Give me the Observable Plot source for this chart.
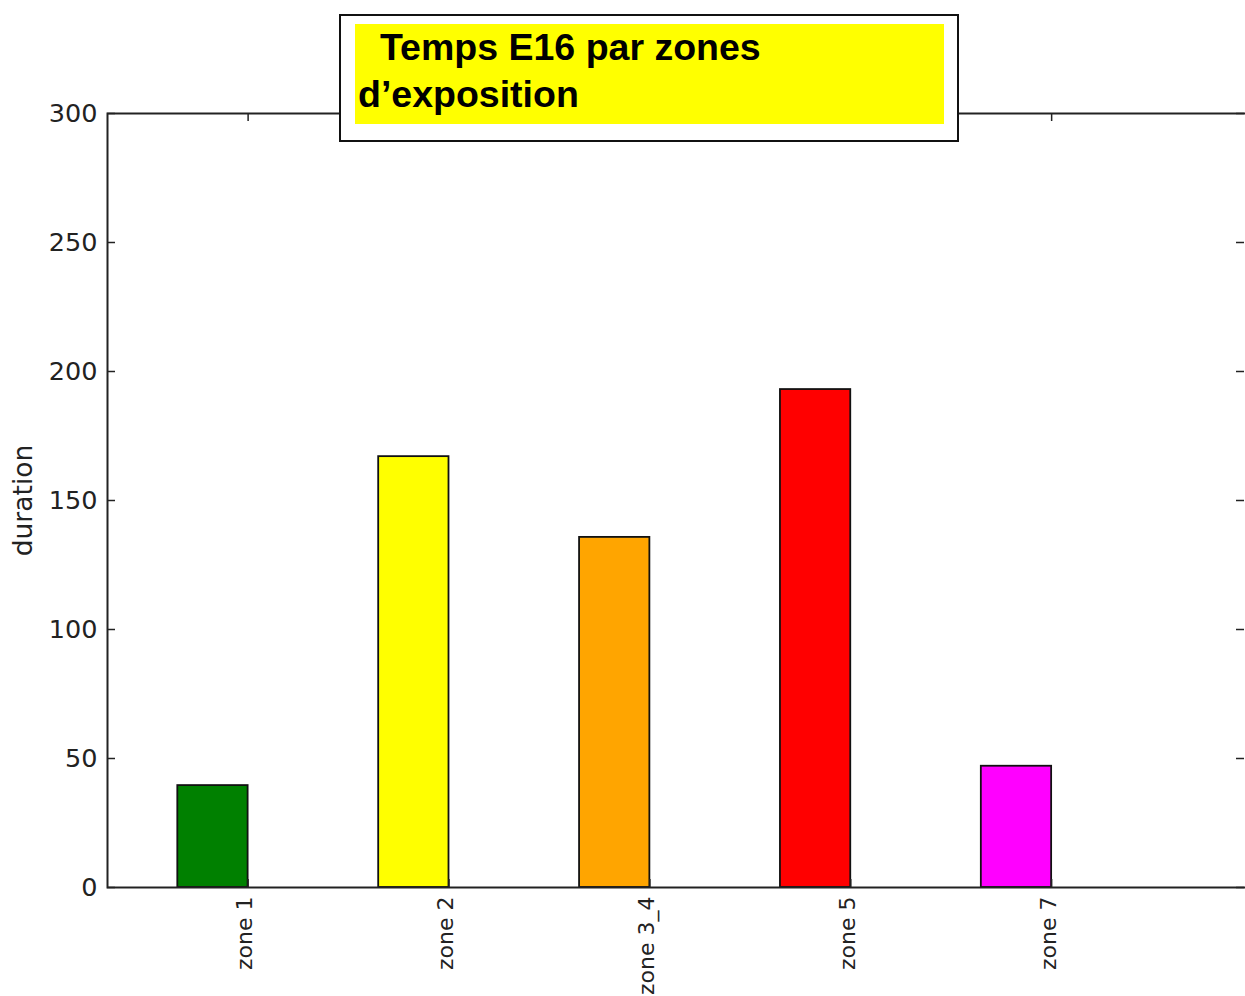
<!DOCTYPE html>
<html>
<head>
<meta charset="utf-8">
<script src="https://cdn.jsdelivr.net/npm/d3@7"></script>
<script src="https://cdn.jsdelivr.net/npm/@observablehq/plot@0.6"></script>
<style>
  html, body { margin: 0; padding: 0; overflow: hidden; background: white; }
  #wrap { position: relative; width: 1245px; height: 996px; overflow: hidden; }
  #chart svg { max-width: none !important; }
  #titlebox {
    position: absolute; left: 339px; top: 14px; width: 616px; height: 124px;
    border: 2px solid #111; background: white; z-index: 2;
  }
  #titleinner {
    position: absolute; left: 14px; top: 8px; width: 589px; height: 100px;
    background: #ffff00;
    font-family: "Liberation Sans", Arial, sans-serif; font-weight: bold;
    font-size: 37.5px; line-height: 47px; color: #000; padding-left: 3px; box-sizing: border-box;
    white-space: nowrap;
  }
  #titleinner .l1 { padding-left: 22px; }
</style>
</head>
<body>
<div id="wrap">
  <div id="titlebox"><div id="titleinner"><div class="l1">Temps E16 par zones</div><div>d’exposition</div></div></div>
  <div id="chart"></div>
</div>
<script>
const zones = ["zone 1", "zone 2", "zone 3_4", "zone 5", "zone 7"];
const durations = [39.5, 167, 135.7, 193, 47];
const barColors = ["#008000", "#ffff00", "#ffa500", "#ff0000", "#ff00ff"];
const yTicks = [0, 50, 100, 150, 200, 250, 300];
const xTicks = [0, 1, 2, 3, 4];
const yLabel = "duration";

const data = zones.map((z, i) => ({i, zone: z, value: durations[i], color: barColors[i]}));

const W = 1249, H = 996, ML = 107, MR = 1, MT = 113, MB = 109;
const innerW = W - ML - MR, innerH = H - MT - MB;
const tickLen = 8;

const chart = Plot.plot({
  width: W, height: H,
  marginLeft: ML, marginRight: MR, marginTop: MT, marginBottom: MB,
  x: {type: "linear", domain: [-0.7, 4.98]},
  y: {domain: [0, 300]},
  color: {type: "identity"},
  style: {fontFamily: "DejaVu Sans", fontSize: "25px", color: "#222", background: "white"},
  marks: [
    Plot.rectY(data, {x1: d => d.i - 0.35, x2: d => d.i, y1: 0, y2: "value", fill: "color", stroke: "#111", strokeWidth: 1.8}),
    Plot.tickY(yTicks, {y: d => d, insetRight: innerW - tickLen, stroke: "#222", strokeWidth: 1.5}),
    Plot.tickY(yTicks, {y: d => d, insetLeft: innerW - tickLen - 4, insetRight: 4, stroke: "#222", strokeWidth: 1.5}),
    Plot.tickX(xTicks, {x: d => d, insetBottom: innerH - tickLen, stroke: "#222", strokeWidth: 1.5}),
    Plot.tickX(xTicks, {x: d => d, insetTop: innerH - tickLen, stroke: "#222", strokeWidth: 1.5}),
    Plot.frame({stroke: "#222", strokeWidth: 2}),
    Plot.axisY({ticks: yTicks, tickSize: 0, tickPadding: 10, fontSize: 25.5, label: null}),
    Plot.axisX({ticks: xTicks, tickFormat: i => zones[i], tickRotate: -90, tickSize: 0, tickPadding: 9, fontSize: 22, label: null, dx: -3}),
    Plot.text([yLabel], {text: d => d, frameAnchor: "left", textAnchor: "middle", dx: -84, rotate: -90, fontSize: 26.5, fill: "#222"})
  ]
});
document.getElementById("chart").appendChild(chart);
</script>
</body>
</html>
